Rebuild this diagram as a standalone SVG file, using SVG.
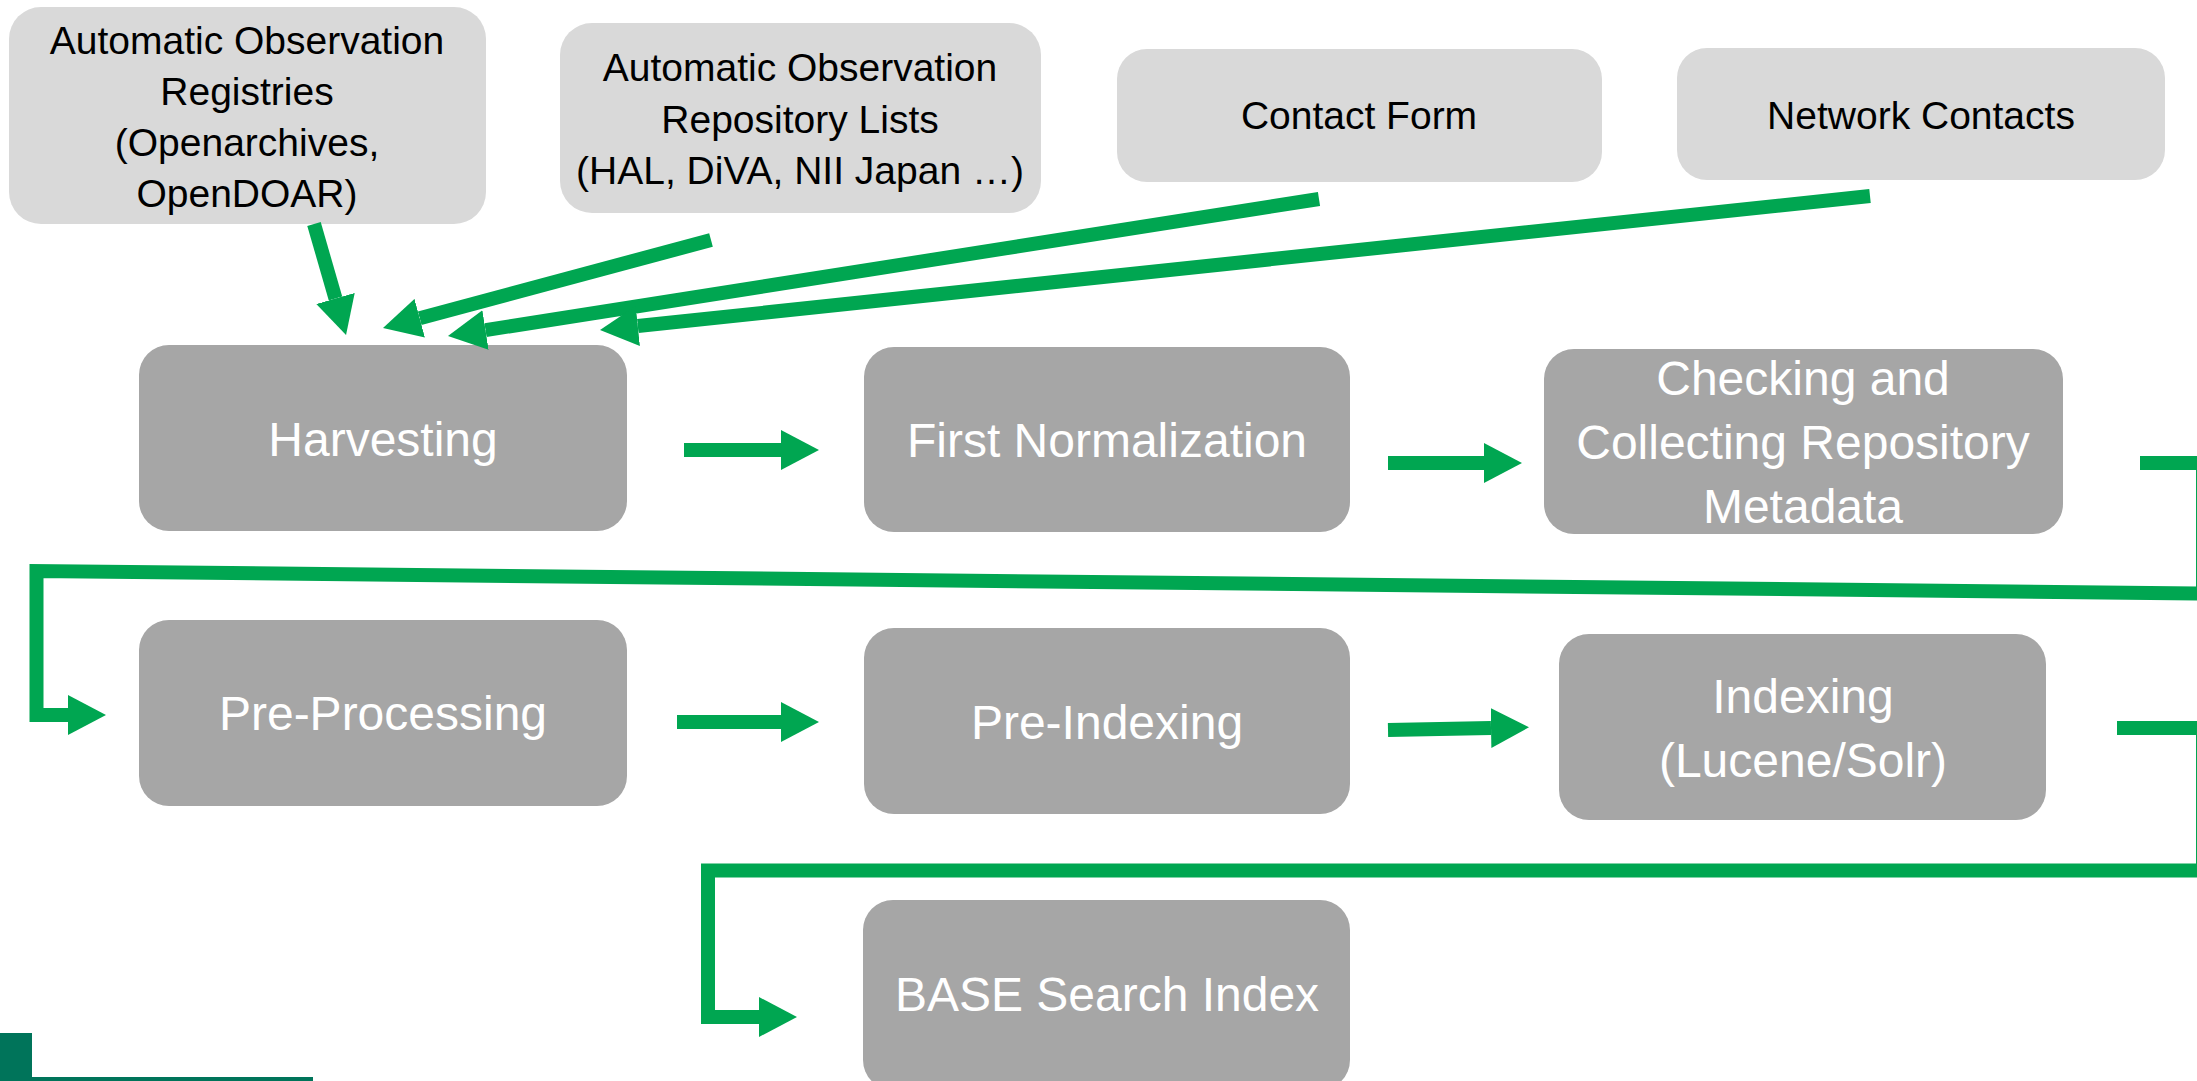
<svg xmlns="http://www.w3.org/2000/svg" width="2197" height="1081" viewBox="0 0 2197 1081">
<defs>
<style>
.src rect{fill:#D9D9D9}
.src text{font-family:"Liberation Sans",Arial,sans-serif;font-size:39px;fill:#000;text-anchor:middle}
.proc rect{fill:#A6A6A6}
.proc text{font-family:"Liberation Sans",Arial,sans-serif;font-size:48px;fill:#FFF;text-anchor:middle}
.conn path{fill:none;stroke:#00A651;stroke-width:14;stroke-linejoin:miter;stroke-linecap:butt}
</style>
<marker id="ah" markerUnits="userSpaceOnUse" markerWidth="38" markerHeight="40" viewBox="0 0 38 40" refX="0" refY="20" orient="auto">
<path d="M0,0 L38,20 L0,40 z" fill="#00A651"/>
</marker>
</defs>
<rect width="2197" height="1081" fill="#FFFFFF"/>

<g id="node-registries" class="src">
<rect x="9" y="7" width="477" height="217" rx="32"/>
<text x="247" y="54">Automatic Observation</text>
<text x="247" y="105">Registries</text>
<text x="247" y="156">(Openarchives,</text>
<text x="247" y="207">OpenDOAR)</text>
</g>
<g id="node-repolists" class="src">
<rect x="560" y="23" width="481" height="190" rx="32"/>
<text x="800" y="81">Automatic Observation</text>
<text x="800" y="133">Repository Lists</text>
<text x="800" y="184">(HAL, DiVA, NII Japan …)</text>
</g>
<g id="node-contactform" class="src">
<rect x="1117" y="49" width="485" height="133" rx="30"/>
<text x="1359" y="129">Contact Form</text>
</g>
<g id="node-networkcontacts" class="src">
<rect x="1677" y="48" width="488" height="132" rx="30"/>
<text x="1921" y="129">Network Contacts</text>
</g>

<g id="node-harvesting" class="proc">
<rect x="139" y="345" width="488" height="186" rx="30"/>
<text x="383" y="456">Harvesting</text>
</g>
<g id="node-firstnorm" class="proc">
<rect x="864" y="347" width="486" height="185" rx="30"/>
<text x="1107" y="457">First Normalization</text>
</g>
<g id="node-checking" class="proc">
<rect x="1544" y="349" width="519" height="185" rx="30"/>
<text x="1803" y="395">Checking and</text>
<text x="1803" y="459">Collecting Repository</text>
<text x="1803" y="523">Metadata</text>
</g>
<g id="node-preprocessing" class="proc">
<rect x="139" y="620" width="488" height="186" rx="30"/>
<text x="383" y="730">Pre-Processing</text>
</g>
<g id="node-preindexing" class="proc">
<rect x="864" y="628" width="486" height="186" rx="30"/>
<text x="1107" y="739">Pre-Indexing</text>
</g>
<g id="node-indexing" class="proc">
<rect x="1559" y="634" width="487" height="186" rx="30"/>
<text x="1803" y="713">Indexing</text>
<text x="1803" y="777">(Lucene/Solr)</text>
</g>
<g id="node-basesearch" class="proc">
<rect x="863" y="900" width="487" height="190" rx="30"/>
<text x="1107" y="1011">BASE Search Index</text>
</g>

<g id="connectors" class="conn">
<path d="M314,224 L335.5,298.5" marker-end="url(#ah)"/>
<path d="M711,240 L419.7,318.2" marker-end="url(#ah)"/>
<path d="M1319,199 L485.5,330.1" marker-end="url(#ah)"/>
<path d="M1870,196 L637.8,326" marker-end="url(#ah)"/>
<path d="M684,450 H781" marker-end="url(#ah)"/>
<path d="M1388,463 H1484" marker-end="url(#ah)"/>
<path d="M677,722 H781" marker-end="url(#ah)"/>
<path d="M1388,730 L1491,728" marker-end="url(#ah)"/>
<path d="M2140,463 H2203 V593.5 L36.5,571 V715 H68" marker-end="url(#ah)" stroke-width="13"/>
<path d="M2117,728 H2203 V870.5 H708 V1017 H759" marker-end="url(#ah)" stroke-width="13"/>
</g>

<g id="logo-fragment">
<rect x="0" y="1033" width="32" height="48" fill="#00745A"/>
<rect x="32" y="1077" width="281" height="4" fill="#00745A"/>
</g>
</svg>
